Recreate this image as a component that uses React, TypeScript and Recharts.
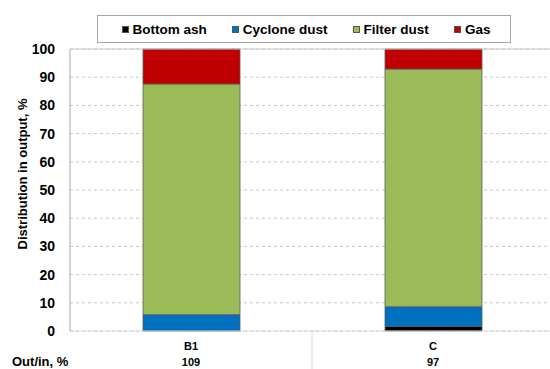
import React from 'react';
import { BarChart, Bar, XAxis, YAxis, CartesianGrid, Legend, ReferenceLine } from 'recharts';

const categories = ['B1', 'C'];
const bottomAsh = [0, 1.6];
const cycloneDust = [5.8, 7.0];
const filterDust = [81.8, 84.3];
const gas = [12.4, 7.1];
const outIn = ['109', '97'];
const yTicks = [0, 10, 20, 30, 40, 50, 60, 70, 80, 90, 100];

const seriesNames = ['Bottom ash', 'Cyclone dust', 'Filter dust', 'Gas'];
const seriesKeys = ['bottomAsh', 'cycloneDust', 'filterDust', 'gas'];
const seriesColors = ['#000000', '#0070C0', '#9BBB59', '#C00000'];

const data = categories.map((c, i) => ({
  name: c,
  bottomAsh: bottomAsh[i],
  cycloneDust: cycloneDust[i],
  filterDust: filterDust[i],
  gas: gas[i],
  outIn: outIn[i],
}));

const FONT = '"Liberation Sans", Arial, sans-serif';

const XTick = (props: any) => {
  const { x, y, payload, index, width, visibleTicksCount } = props;
  const band = width / (visibleTicksCount || categories.length);
  const d = data[index];
  return (
    <g>
      <text x={x} y={y + 11} textAnchor="middle" fontFamily={FONT} fontWeight="bold" fontSize={11} fill="#000">
        {payload.value}
      </text>
      <text x={x} y={y + 27} textAnchor="middle" fontFamily={FONT} fontWeight="bold" fontSize={11} fill="#000">
        {d ? d.outIn : ''}
      </text>
      {index < categories.length - 1 && (
        <line x1={x + band / 2} y1={y - 8} x2={x + band / 2} y2={y + 40} stroke="#d9d9d9" strokeWidth={1} />
      )}
    </g>
  );
};

const LegendContent = () => (
  <div
    style={{
      boxSizing: 'border-box',
      width: '100%',
      height: '100%',
      border: '1px solid #a6a6a6',
      background: '#fff',
      display: 'flex',
      alignItems: 'center',
      justifyContent: 'center',
      gap: 25,
      fontFamily: FONT,
      fontWeight: 'bold',
      fontSize: 13.5,
      color: '#000',
      paddingLeft: 4,
    }}
  >
    {seriesNames.map((n, i) => (
      <div key={n} style={{ display: 'flex', alignItems: 'center' }}>
        <span
          style={{
            display: 'inline-block',
            boxSizing: 'border-box',
            width: 7,
            height: 7,
            background: seriesColors[i],
            border: '0.5px solid #555',
            marginRight: 4,
          }}
        />
        <span>{n}</span>
      </div>
    ))}
  </div>
);

export default function App() {
  return (
    <div style={{ position: 'absolute', left: 0, top: 0, width: 550, height: 369, overflow: 'hidden', background: '#fff' }}>
      <BarChart
        width={554}
        height={369}
        data={data}
        margin={{ top: 49, right: 0, left: 0, bottom: 0 }}
        barSize={97}
      >
        <CartesianGrid vertical={false} stroke="#c8c8c8" strokeDasharray="3 3" />
        <XAxis
          dataKey="name"
          height={38}
          tickLine={false}
          axisLine={{ stroke: '#d9d9d9' }}
          interval={0}
          tick={<XTick />}
          label={{
            content: (p: any) => {
              const vb = p.viewBox || { x: 70, y: 331 };
              return (
                <text x={vb.x - 58} y={vb.y + 35} fontFamily={FONT} fontWeight="bold" fontSize={13} fill="#000">
                  Out/in, %
                </text>
              );
            },
          }}
        />
        <YAxis
          width={70}
          domain={[0, 100]}
          ticks={yTicks}
          interval={0}
          tickLine={false}
          tickSize={0}
          tickMargin={15}
          axisLine={{ stroke: '#a6a6a6' }}
          tick={{ fontFamily: FONT, fontWeight: 'bold', fontSize: 14, fill: '#000' }}
          label={{
            content: () => (
              <text
                x={22}
                y={174}
                transform="rotate(-90 22 174)"
                textAnchor="middle"
                dominantBaseline="central"
                fontFamily={FONT}
                fontWeight="bold"
                fontSize={13}
                fill="#000"
              >
                Distribution in output, %
              </text>
            ),
          }}
        />
        <ReferenceLine y={100} stroke="#c8c8c8" strokeWidth={1} />
        <Legend
          layout="horizontal"
          verticalAlign="middle"
          align="center"
          wrapperStyle={{ top: 15, left: 97, width: 414, height: 28 }}
          content={<LegendContent />}
        />
        {seriesKeys.map((k, i) => (
          <Bar
            key={k}
            dataKey={k}
            name={seriesNames[i]}
            stackId="a"
            fill={seriesColors[i]}
            stroke="#5a5a5a"
            strokeWidth={0.8}
            isAnimationActive={false}
          />
        ))}
      </BarChart>
    </div>
  );
}
